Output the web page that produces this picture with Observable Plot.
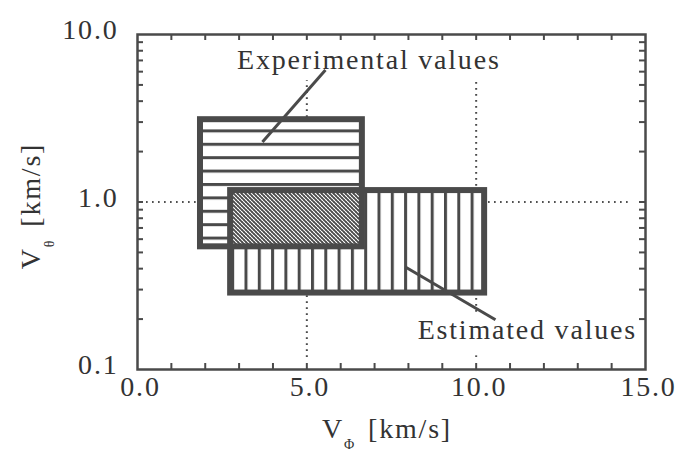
<!DOCTYPE html>
<html><head><meta charset="utf-8">
<script src="https://cdn.jsdelivr.net/npm/d3@7"></script>
<script src="https://cdn.jsdelivr.net/npm/@observablehq/plot@0.6"></script>
<style>
body{margin:0;background:#fff;}
#chart svg{display:block;}
#chart svg text{font-family:"Liberation Serif", serif; letter-spacing:1.8px;}
</style>
</head><body>
<div id="chart"></div>
<script>
// ---- data ----
const boxNames = ["Experimental values", "Estimated values"];
const boxX1 = [1.86, 2.75];
const boxX2 = [6.64, 10.25];
const boxY1 = [0.54, 0.286];
const boxY2 = [3.1, 1.17];

const labelX = [6.83, 11.51];
const labelY = [6.2, 0.152];
const leaderX1 = [5.55, 7.91];
const leaderY1 = [6.14, 0.409];
const leaderX2 = [3.69, 10.57];
const leaderY2 = [2.28, 0.198];

const xTickValues = [0, 5, 10, 15];
const xTickLabels = ["0.0", "5.0", "10.0", "15.0"];
const yTickValues = [0.1, 1, 10];
const yTickLabels = ["0.1", "1.0", "10.0"];
const xMinorTicks = [1, 2, 3, 4, 5, 6, 7, 8, 9, 10, 11, 12, 13, 14];
const yMinorTicks = [0.2, 0.3, 0.4, 0.5, 0.6, 0.7, 0.8, 0.9, 1, 2, 3, 4, 5, 6, 7, 8, 9];

// dotted reference lines (segments)
const vGridX = [5, 10, 10];
const vGridY1 = [0.118, 0.22, 0.118];
const vGridY2 = [5.3, 5.3, 0.127];
const hGridY = [1];
const hGridX1 = [0.09];
const hGridX2 = [14.55];

// ---- tables built from arrays ----
const boxes = boxNames.map((n, i) => ({name: n, x1: boxX1[i], x2: boxX2[i], y1: boxY1[i], y2: boxY2[i]}));
const exp = boxes[0], est = boxes[1];
const overlap = [{x1: est.x1, x2: exp.x2, y1: exp.y1, y2: est.y2}];
const labels = boxNames.map((n, i) => ({text: n, x: labelX[i], y: labelY[i]}));
const leaders = boxNames.map((n, i) => ({x1: leaderX1[i], y1: leaderY1[i], x2: leaderX2[i], y2: leaderY2[i]}));
const vGrid = vGridX.map((x, i) => ({x, y1: vGridY1[i], y2: vGridY2[i]}));
const hGrid = hGridY.map((y, i) => ({y, x1: hGridX1[i], x2: hGridX2[i]}));

const W = 680, H = 455;
const mL = 137, mR = 35, mT = 34, mB = 86;
const iW = W - mL - mR, iH = H - mT - mB;
const ink = "#4a4a4a";
const txt = "#333";
const tick = 6;
const serif = "Liberation Serif";

const plot = Plot.plot({
  width: W, height: H,
  marginLeft: mL, marginRight: mR, marginTop: mT, marginBottom: mB,
  style: {fontFamily: serif, color: txt, background: "white"},
  x: {domain: [0, 15], axis: null},
  y: {type: "log", domain: [0.1, 10], axis: null},
  marks: [
    Plot.ruleX(vGrid, {x: "x", y1: "y1", y2: "y2", stroke: ink, strokeWidth: 2, strokeDasharray: "1.6,4.4"}),
    Plot.ruleY(hGrid, {y: "y", x1: "x1", x2: "x2", stroke: ink, strokeWidth: 2, strokeDasharray: "1.6,4.4"}),
    Plot.rect(boxes, {x1: "x1", x2: "x2", y1: "y1", y2: "y2", fill: "white"}),
    Plot.rect([est], {x1: "x1", x2: "x2", y1: "y1", y2: "y2", fill: "url(#vhatch)"}),
    Plot.rect([exp], {x1: "x1", x2: "x2", y1: "y1", y2: "y2", fill: "url(#hhatch)"}),
    Plot.rect(overlap, {x1: "x1", x2: "x2", y1: "y1", y2: "y2", fill: "url(#xhatch)"}),
    Plot.rect(boxes, {x1: "x1", x2: "x2", y1: "y1", y2: "y2", fill: "none", stroke: ink, strokeWidth: 6}),
    Plot.link(leaders, {x1: "x1", y1: "y1", x2: "x2", y2: "y2", stroke: ink, strokeWidth: 3}),
    Plot.text(labels, {x: "x", y: "y", text: "text", fontSize: 28, fontFamily: serif, textAnchor: "middle", lineAnchor: "bottom", fill: txt}),
    Plot.ruleX(xMinorTicks, {x: d => d, insetTop: iH - tick, stroke: ink, strokeWidth: 2}),
    Plot.ruleX(xMinorTicks, {x: d => d, insetBottom: iH - tick, stroke: ink, strokeWidth: 2}),
    Plot.ruleY(yMinorTicks, {y: d => d, insetRight: iW - tick, stroke: ink, strokeWidth: 2}),
    Plot.ruleY(yMinorTicks, {y: d => d, insetLeft: iW - tick, stroke: ink, strokeWidth: 2}),
    Plot.axisX({anchor: "bottom", ticks: xTickValues, tickFormat: d => xTickLabels[xTickValues.indexOf(d)], tickSize: 0, tickPadding: 7, fontSize: 28, fontFamily: serif, dx: 3, label: null}),
    Plot.axisY({anchor: "left", ticks: yTickValues, tickFormat: d => yTickLabels[yTickValues.indexOf(d)], tickSize: 0, tickPadding: 19, fontSize: 28, fontFamily: serif, dy: -4, label: null}),
    Plot.frame({stroke: ink, strokeWidth: 2.5})
  ]
});

// hatch patterns
const svg = d3.select(plot);
const defs = svg.insert("defs", ":first-child");
const vh = defs.append("pattern").attr("id", "vhatch").attr("patternUnits", "userSpaceOnUse")
  .attr("width", 13.3).attr("height", 10).attr("x", 5.1);
vh.append("rect").attr("width", 13.3).attr("height", 10).attr("fill", "white");
vh.append("rect").attr("x", 0).attr("width", 3).attr("height", 10).attr("fill", ink);
const hh = defs.append("pattern").attr("id", "hhatch").attr("patternUnits", "userSpaceOnUse")
  .attr("width", 10).attr("height", 13.4).attr("y", 8.8);
hh.append("rect").attr("width", 10).attr("height", 13.4).attr("fill", "white");
hh.append("rect").attr("y", 0).attr("width", 10).attr("height", 3).attr("fill", ink);
const xh = defs.append("pattern").attr("id", "xhatch").attr("patternUnits", "userSpaceOnUse")
  .attr("width", 4).attr("height", 4);
xh.append("rect").attr("width", 4).attr("height", 4).attr("fill", "white");
xh.append("path").attr("d", "M-1,-1L5,5M-1,3L1,5M3,-1L5,1").attr("stroke", ink).attr("stroke-width", 1.6);
xh.append("path").attr("d", "M-1,5L5,-1").attr("stroke", "#666").attr("stroke-width", 0.9);

// axis titles with subscripts
const xt = svg.append("text").attr("x", 322).attr("y", 438).attr("font-size", 28)
  .attr("text-anchor", "start").attr("fill", txt);
xt.append("tspan").text("V");
xt.append("tspan").attr("font-size", 14).attr("dy", 11).attr("dx", 0).text("Φ");
xt.append("tspan").attr("dy", -11).attr("dx", 12).text("[km/s]");

const yt = svg.append("text").attr("transform", "translate(40,206) rotate(-90)").attr("text-anchor", "middle")
  .attr("font-size", 28).attr("fill", txt);
yt.append("tspan").text("V");
yt.append("tspan").attr("font-size", 14).attr("dy", 14).attr("dx", 0).text("θ");
yt.append("tspan").attr("dy", -14).attr("dx", 12).text("[km/s]");

document.getElementById("chart").appendChild(plot);
</script>
</body></html>
